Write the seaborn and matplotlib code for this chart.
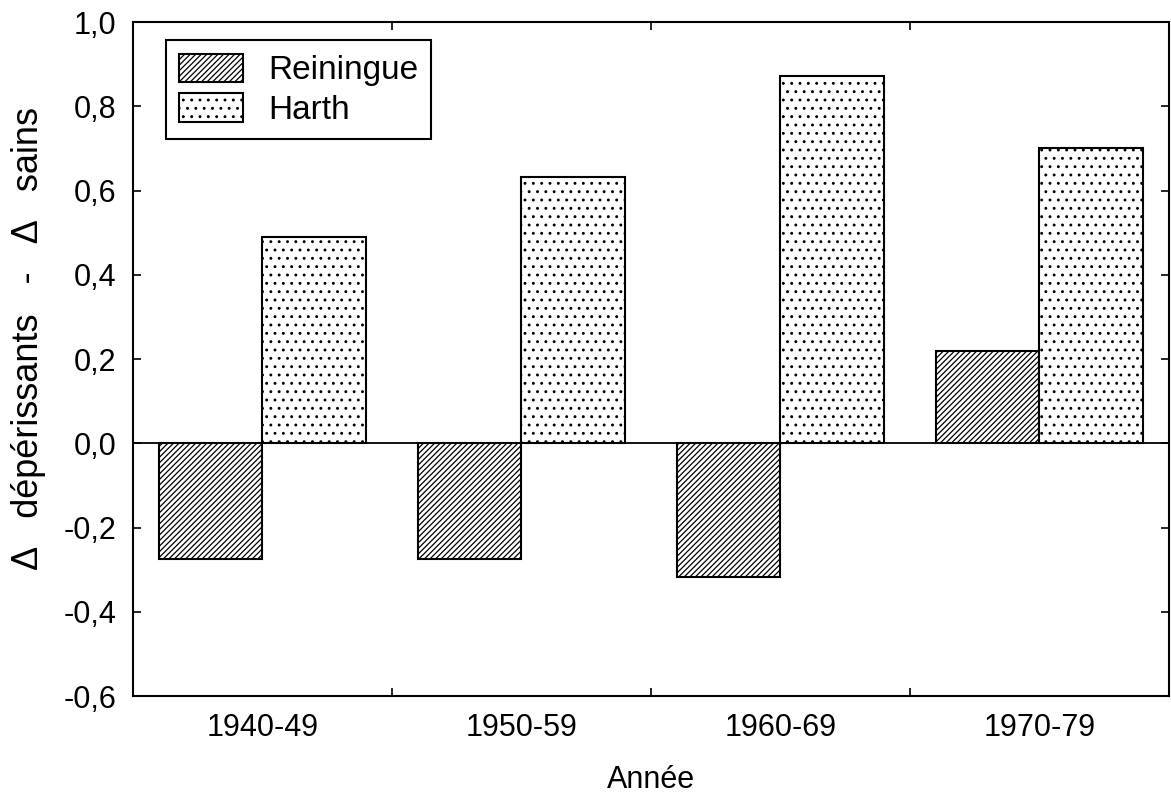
import numpy as np
import pandas as pd
import matplotlib
matplotlib.use("Agg")
import matplotlib.pyplot as plt
import seaborn as sns

periods = ["1940-49", "1950-59", "1960-69", "1970-79"]
reiningue = [-0.275, -0.275, -0.317, 0.22]
harth = [0.49, 0.631, 0.871, 0.70]
sites = ["Reiningue", "Harth"]
yticks = [-0.6, -0.4, -0.2, 0.0, 0.2, 0.4, 0.6, 0.8, 1.0]

df = pd.DataFrame({
    "Année": periods * 2,
    "val": reiningue + harth,
    "site": [sites[0]] * 4 + [sites[1]] * 4,
})

sns.set_theme(style="white")
plt.rcParams["font.family"] = ["Liberation Sans", "DejaVu Sans"]
plt.rcParams["hatch.linewidth"] = 0.9
plt.rcParams["text.color"] = "black"
plt.rcParams["axes.labelcolor"] = "black"
plt.rcParams["xtick.color"] = "black"
plt.rcParams["ytick.color"] = "black"

fig = plt.figure(figsize=(11.71, 7.98), dpi=100)
ax = fig.add_axes([0.1136, 0.1278, 0.8844, 0.8446])

sns.barplot(data=df, x="Année", y="val", hue="site", palette=["white", "white"],
            edgecolor="black", linewidth=1.5, width=0.8, legend=False, ax=ax,
            saturation=1)

hatches = ["//////", ".."]
for cont, h in zip(ax.containers, hatches):
    for p in cont:
        p.set_hatch(h)
        p.set_edgecolor("black")

ax.axhline(0, color="black", lw=1.3, zorder=5)
ax.set_ylim(-0.6, 1.0)
ax.set_xlim(-0.5, 3.5)
ax.set_yticks(yticks)
ax.set_yticklabels([f"{v:.1f}".replace(".", ",") for v in yticks])
ax.set_xticks(range(4))
ax.set_xticklabels(periods)
ax.set_xticks([0.5, 1.5, 2.5], minor=True)

ax.tick_params(axis="x", which="major", length=0, labelsize=22, pad=12,
               labelcolor="black")
ax.tick_params(axis="x", which="minor", direction="in", length=6, width=1.2,
               top=True, bottom=True, color="black")
ax.tick_params(axis="y", which="major", direction="in", length=6, width=1.2,
               left=True, right=True, labelsize=22, pad=12, color="black",
               labelcolor="black")

for s in ax.spines.values():
    s.set_color("black")
    s.set_linewidth(1.5)

ax.set_xlabel("Année", fontsize=22, labelpad=16, color="black")
ax.set_ylabel("Δ   dépérissants   -   Δ   sains", fontsize=26, color="black")
ax.yaxis.set_label_coords(-0.084, 0.53)

leg = ax.legend(ax.containers, sites, loc="upper left",
                bbox_to_anchor=(0.032, 0.973), fontsize=24, frameon=True,
                fancybox=False, edgecolor="black", framealpha=1,
                handlelength=1.9, handleheight=0.95, handletextpad=0.75,
                labelspacing=0.2, borderpad=0.4, borderaxespad=0)
leg.get_frame().set_linewidth(1.5)
for t in leg.get_texts():
    t.set_color("black")

fig.savefig("out.png", dpi=100)
